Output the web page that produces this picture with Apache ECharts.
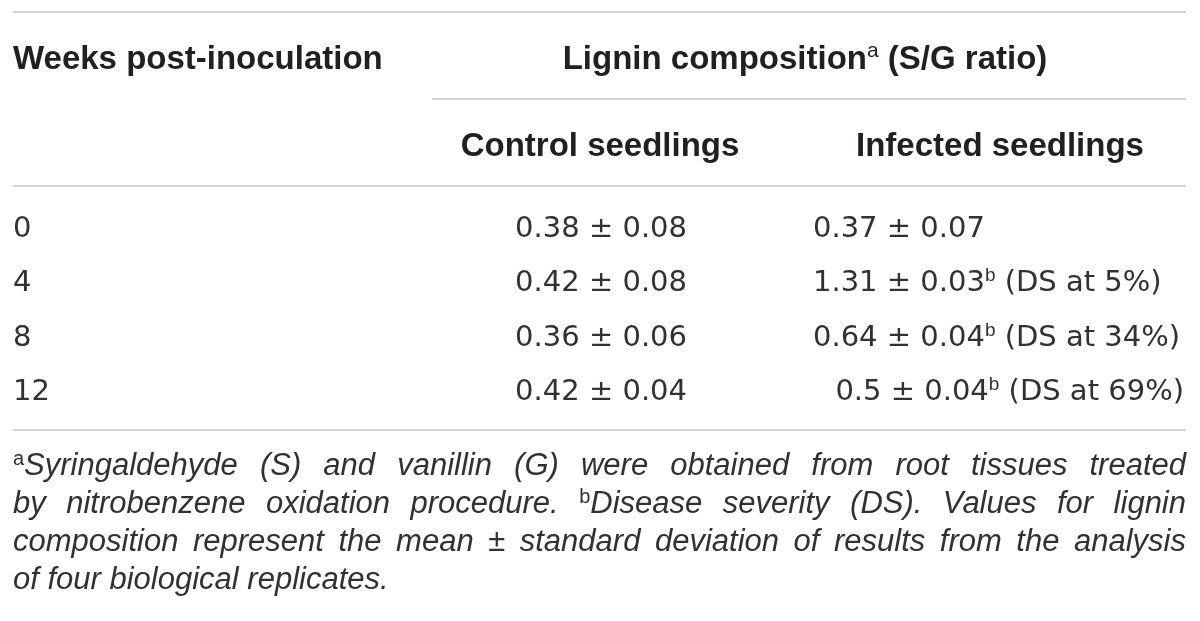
<!DOCTYPE html>
<html>
<head>
<meta charset="utf-8">
<script src="https://cdn.jsdelivr.net/npm/echarts@6/dist/echarts.min.js"></script>
<style>
html, body { margin: 0; padding: 0; background: #fff; }
#main { width: 1200px; height: 621px; }
</style>
</head>
<body>
<div id="main"></div>
<script>
// table data
var weeks = ['0', '4', '8', '12'];
var groups = ['Control seedlings', 'Infected seedlings'];
var controlMean = [0.38, 0.42, 0.36, 0.42];
var controlSd = [0.08, 0.08, 0.06, 0.04];
var infectedMean = [0.37, 1.31, 0.64, 0.5];
var infectedSd = [0.07, 0.03, 0.04, 0.04];
var diseaseSeverity = [null, 5, 34, 69];

var rowHeader = 'Weeks post-inoculation';
var spanHeader = ['Lignin composition', 'a', ' (S/G ratio)'];
// ^x marks a superscript
var footnote = [
	'^aSyringaldehyde (S) and vanillin (G) were obtained from root tissues treated',
	'by nitrobenzene oxidation procedure. ^bDisease severity (DS). Values for lignin',
	'composition represent the mean ± standard deviation of results from the analysis',
	'of four biological replicates.'
];

var FONT = '"Liberation Sans", Arial, sans-serif';
var BODY_FONT = '"DejaVu Sans", sans-serif';
var INK = '#231f20';
var BODY = '#333031';
var RULE = '#c4c4c4';
var LEFT = 13, RIGHT = 1186;

var RICH = {
	n: { fontSize: 29, fontFamily: BODY_FONT, fill: BODY, lineHeight: 34 },
	sup: { fontSize: 19, fontFamily: FONT, fill: BODY, lineHeight: 22, verticalAlign: 'top' }
};

function renderCell(params, api) {
	var col = api.value(0);
	var row = api.value(1);
	var p = api.coord([col, row]);
	var text, align, x;
	if (col === 0) {
		text = '{n|' + controlMean[row] + ' ± ' + controlSd[row].toFixed(2) + '}';
		align = 'right';
		x = p[0] + 87;
	} else {
		text = '{n|' + infectedMean[row] + ' ± ' + infectedSd[row].toFixed(2) + '}';
		if (diseaseSeverity[row] != null) {
			text += '{sup|b}{n| (DS at ' + diseaseSeverity[row] + '%)}';
		}
		if (row === 3) { //this row sits flush right in the source
			align = 'right';
			x = p[0] + 184;
		} else {
			align = 'left';
			x = p[0] - 187;
		}
	}
	return {
		type: 'text',
		x: x,
		y: p[1],
		style: { text: text, rich: RICH, align: align, verticalAlign: 'middle', fill: BODY }
	};
}

var cells = [];
for (var c = 0; c < groups.length; c++) {
	for (var r = 0; r < weeks.length; r++) {
		cells.push([c, r]);
	}
}

//measure words for the justified footnote
var ctx = document.createElement('canvas').getContext('2d');
var FOOT_SIZE = 31, FOOT_SUP = 20;
function textWidth(s, italic, size) {
	ctx.font = (italic ? 'italic ' : '') + size + 'px ' + FONT;
	return ctx.measureText(s).width;
}

function footnoteElements() {
	var els = [];
	var ys = [466, 504, 542, 580];
	var rich = {
		i: { fontSize: FOOT_SIZE, fontFamily: FONT, fontStyle: 'italic', fill: BODY, lineHeight: 34 },
		s: { fontSize: FOOT_SUP, fontFamily: FONT, fill: BODY, lineHeight: 22, verticalAlign: 'top' }
	};
	for (var l = 0; l < footnote.length; l++) {
		var words = footnote[l].split(' ');
		var items = [];
		var total = 0;
		for (var w = 0; w < words.length; w++) {
			var word = words[w], sup = '';
			if (word.charAt(0) === '^') {
				sup = word.charAt(1);
				word = word.substring(2);
			}
			var wd = textWidth(word, true, FOOT_SIZE) + (sup ? textWidth(sup, false, FOOT_SUP) : 0);
			total += wd;
			items.push({ word: word, sup: sup, width: wd });
		}
		var gap = textWidth(' ', true, FOOT_SIZE);
		if (l < footnote.length - 1 && items.length > 1) {
			gap = Math.max(4, (RIGHT - LEFT - total) / (items.length - 1));
		}
		var x = LEFT;
		for (var k = 0; k < items.length; k++) {
			var t = (items[k].sup ? '{s|' + items[k].sup + '}' : '') + '{i|' + items[k].word + '}';
			els.push({
				type: 'text',
				x: x,
				y: ys[l],
				style: { text: t, rich: rich, align: 'left', verticalAlign: 'middle', fill: BODY }
			});
			x += items[k].width + gap;
		}
	}
	return els;
}

function rule(x1, x2, y) {
	return {
		type: 'line',
		shape: { x1: x1, y1: y, x2: x2, y2: y },
		style: { stroke: RULE, lineWidth: 1.5 },
		silent: true
	};
}

var mychart = echarts.init(document.getElementById('main'));
var headRich = {
	h: { fontSize: 33, fontFamily: FONT, fontWeight: 'bold', fill: INK, lineHeight: 38 },
	hs: { fontSize: 21, fontFamily: FONT, fill: INK, lineHeight: 24, verticalAlign: 'top' }
};
var graphics = [
	rule(LEFT, RIGHT, 12),
	rule(432, RIGHT, 99),
	rule(LEFT, RIGHT, 186),
	rule(LEFT, RIGHT, 430),
	{
		type: 'text', x: LEFT, y: 60,
		style: { text: '{h|' + rowHeader + '}', rich: headRich, align: 'left', verticalAlign: 'middle' }
	},
	{
		type: 'text', x: 805, y: 60,
		style: {
			text: '{h|' + spanHeader[0] + '}{hs|' + spanHeader[1] + '}{h|' + spanHeader[2] + '}',
			rich: headRich, align: 'center', verticalAlign: 'middle'
		}
	}
].concat(footnoteElements());

var option = {
	animation: false,
	backgroundColor: '#fff',
	grid: { left: 400, right: 0, top: 202, height: 218 },
	xAxis: {
		type: 'category',
		position: 'top',
		data: groups,
		axisLine: { show: false },
		axisTick: { show: false },
		splitLine: { show: false },
		axisLabel: {
			margin: 39,
			fontSize: 33,
			fontWeight: 'bold',
			fontFamily: FONT,
			color: INK
		}
	},
	yAxis: {
		type: 'category',
		inverse: true,
		data: weeks,
		axisLine: { show: false },
		axisTick: { show: false },
		splitLine: { show: false },
		axisLabel: {
			align: 'left',
			margin: 387,
			fontSize: 29,
			fontFamily: BODY_FONT,
			color: BODY
		}
	},
	series: [{
		type: 'custom',
		renderItem: renderCell,
		data: cells,
		silent: true
	}],
	graphic: { elements: graphics }
};
mychart.setOption(option);
</script>
</body>
</html>
